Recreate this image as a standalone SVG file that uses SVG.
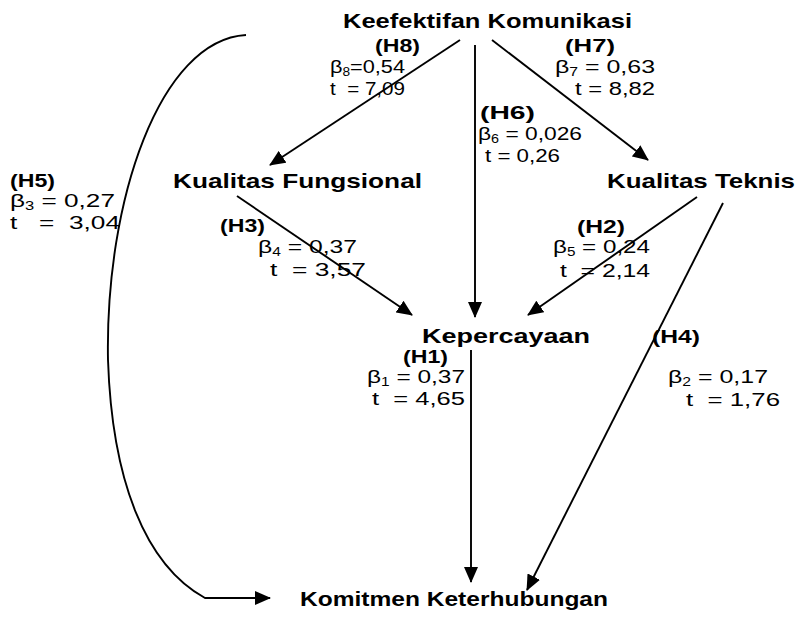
<svg xmlns="http://www.w3.org/2000/svg" width="799" height="632" viewBox="0 0 799 632">
<style>
.n{font-family:"Liberation Sans",Arial,sans-serif;font-weight:bold;font-size:21px;fill:#000}
.h{font-family:"Liberation Sans",Arial,sans-serif;font-weight:bold;font-size:19px;fill:#000}
.v{font-family:"Liberation Sans",Arial,sans-serif;font-size:19px;fill:#000}
.s{font-size:12px}
.c{fill:none;stroke:#000;stroke-width:1.9}
</style>
<defs>
<marker id="ah" viewBox="0 0 16 14" refX="15" refY="7" markerWidth="16" markerHeight="14" markerUnits="userSpaceOnUse" orient="auto">
<path d="M0,0 L16,7 L0,14 Z" fill="#000"/>
</marker>
</defs>
<rect width="799" height="632" fill="#fff"/>
<g id="connectors">
<line class="c" x1="460" y1="40" x2="270" y2="165" marker-end="url(#ah)"/>
<line class="c" x1="492" y1="40" x2="648" y2="160" marker-end="url(#ah)"/>
<line class="c" x1="475" y1="45" x2="475" y2="317" marker-end="url(#ah)"/>
<line class="c" x1="237" y1="196" x2="412" y2="315" marker-end="url(#ah)"/>
<line class="c" x1="697" y1="197" x2="528" y2="315" marker-end="url(#ah)"/>
<line class="c" x1="471" y1="350" x2="471" y2="582" marker-end="url(#ah)"/>
<line class="c" x1="723" y1="203" x2="527" y2="590" marker-end="url(#ah)"/>
<path class="c" d="M246,35 C160,40 105,200 108,360 C112,480 145,565 205,598 L270,598" marker-end="url(#ah)"/>
</g>
<g id="node-keefektifan"><text class="n" x="343" y="28" textLength="289" lengthAdjust="spacingAndGlyphs">Keefektifan Komunikasi</text></g>
<g id="node-fungsional"><text class="n" x="173" y="188" textLength="249" lengthAdjust="spacingAndGlyphs">Kualitas Fungsional</text></g>
<g id="node-teknis"><text class="n" x="607" y="188" textLength="188" lengthAdjust="spacingAndGlyphs">Kualitas Teknis</text></g>
<g id="node-kepercayaan"><text class="n" x="422" y="343" textLength="168" lengthAdjust="spacingAndGlyphs">Kepercayaan</text></g>
<g id="node-komitmen"><text class="n" x="300" y="606" textLength="308" lengthAdjust="spacingAndGlyphs">Komitmen Keterhubungan</text></g>
<g id="labels">
<text class="h" x="375" y="52" textLength="45" lengthAdjust="spacingAndGlyphs">(H8)</text>
<text class="v" x="330" y="73" textLength="75" lengthAdjust="spacingAndGlyphs">β<tspan class="s" dy="3">8</tspan><tspan dy="-3">=0,54</tspan></text>
<text class="v" x="330" y="95" textLength="75" lengthAdjust="spacingAndGlyphs" xml:space="preserve">t  = 7,09</text>
<text class="h" x="565" y="52" textLength="50" lengthAdjust="spacingAndGlyphs">(H7)</text>
<text class="v" x="555" y="73" textLength="100" lengthAdjust="spacingAndGlyphs">β<tspan class="s" dy="3">7</tspan><tspan dy="-3"> = 0,63</tspan></text>
<text class="v" x="575" y="95" textLength="80" lengthAdjust="spacingAndGlyphs">t = 8,82</text>
<text class="h" x="480" y="119" textLength="55" lengthAdjust="spacingAndGlyphs">(H6)</text>
<text class="v" x="478" y="140" textLength="104" lengthAdjust="spacingAndGlyphs">β<tspan class="s" dy="3">6</tspan><tspan dy="-3"> = 0,026</tspan></text>
<text class="v" x="485" y="162" textLength="75" lengthAdjust="spacingAndGlyphs">t = 0,26</text>
<text class="h" x="10" y="187" textLength="45" lengthAdjust="spacingAndGlyphs">(H5)</text>
<text class="v" x="10" y="207" textLength="105" lengthAdjust="spacingAndGlyphs">β<tspan class="s" dy="3">3</tspan><tspan dy="-3"> = 0,27</tspan></text>
<text class="v" x="10" y="229" textLength="110" lengthAdjust="spacingAndGlyphs" xml:space="preserve">t   =  3,04</text>
<text class="h" x="220" y="232" textLength="45" lengthAdjust="spacingAndGlyphs">(H3)</text>
<text class="v" x="258" y="253" textLength="99" lengthAdjust="spacingAndGlyphs">β<tspan class="s" dy="3">4</tspan><tspan dy="-3"> = 0,37</tspan></text>
<text class="v" x="270" y="276" textLength="96" lengthAdjust="spacingAndGlyphs" xml:space="preserve">t  = 3,57</text>
<text class="h" x="577" y="233" textLength="48" lengthAdjust="spacingAndGlyphs">(H2)</text>
<text class="v" x="553" y="253" textLength="97" lengthAdjust="spacingAndGlyphs">β<tspan class="s" dy="3">5</tspan><tspan dy="-3"> = 0,24</tspan></text>
<text class="v" x="560" y="277" textLength="90" lengthAdjust="spacingAndGlyphs" xml:space="preserve">t  = 2,14</text>
<text class="h" x="403" y="363" textLength="45" lengthAdjust="spacingAndGlyphs">(H1)</text>
<text class="v" x="367" y="383" textLength="98" lengthAdjust="spacingAndGlyphs">β<tspan class="s" dy="3">1</tspan><tspan dy="-3"> = 0,37</tspan></text>
<text class="v" x="372" y="405" textLength="93" lengthAdjust="spacingAndGlyphs" xml:space="preserve">t  = 4,65</text>
<text class="h" x="652" y="343" textLength="48" lengthAdjust="spacingAndGlyphs">(H4)</text>
<text class="v" x="668" y="383" textLength="100" lengthAdjust="spacingAndGlyphs">β<tspan class="s" dy="3">2</tspan><tspan dy="-3"> = 0,17</tspan></text>
<text class="v" x="686" y="406" textLength="94" lengthAdjust="spacingAndGlyphs" xml:space="preserve">t  = 1,76</text>
</g>
</svg>
